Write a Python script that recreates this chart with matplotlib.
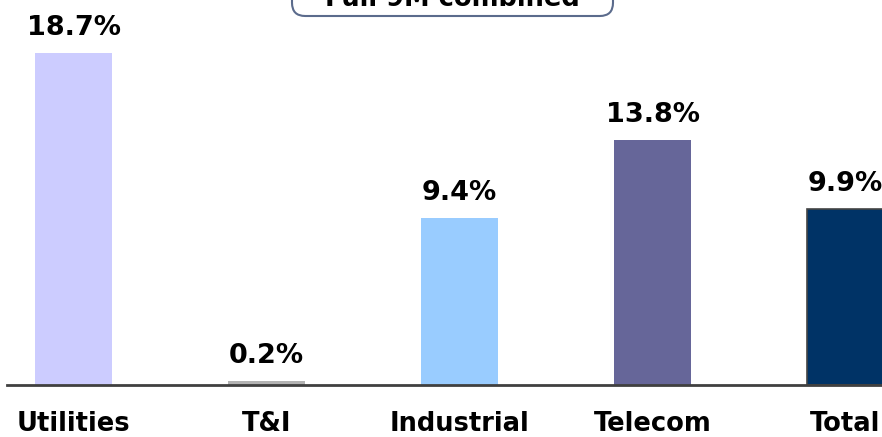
import matplotlib
matplotlib.use("Agg")
import matplotlib.pyplot as plt
from matplotlib.patches import FancyBboxPatch

categories = ["Utilities", "T&I", "Industrial", "Telecom", "Total"]
values = [18.7, 0.2, 9.4, 13.8, 9.9]
value_labels = ["18.7%", "0.2%", "9.4%", "13.8%", "9.9%"]
colors = ["#CCCCFF", "#B3B3B3", "#99CCFF", "#666699", "#003366"]
edgecolors = ["none", "none", "none", "none", "#444444"]
title = "Full 9M combined"

plt.rcParams['font.family'] = ['DejaVu Sans']

fig = plt.figure(figsize=(8.82, 4.37), dpi=100)
ax = fig.add_axes([7/882, 1 - 385/437, 1 - 7/882, 385/437])

x = list(range(len(categories)))
bars = ax.bar(x, values, width=0.4, color=colors, edgecolor=edgecolors, linewidth=1.2)

ax.set_xlim(-0.345, 4.189)
ax.set_ylim(0, 385/17.75)

for s in ["top", "left", "right"]:
    ax.spines[s].set_visible(False)
ax.spines["bottom"].set_color("#404040")
ax.spines["bottom"].set_linewidth(2)
ax.set_yticks([])
ax.set_xticks([])

for xi, v, lab in zip(x, values, value_labels):
    ax.annotate(lab, xy=(xi, v), xytext=(0, 13), textcoords="offset points",
                ha="center", va="baseline", fontsize=19.5, fontweight="bold",
                color="black", annotation_clip=False)

for xi, cat in zip(x, categories):
    ax.annotate(cat, xy=(xi, 0), xycoords=("data", "axes fraction"),
                xytext=(0, -33.3), textcoords="offset points",
                ha="center", va="baseline", fontsize=18.5, fontweight="bold",
                color="black", annotation_clip=False)

# title box (partially cut at top)
box = FancyBboxPatch((292/882, 1 - 16/437), (613 - 292)/882, 40/437,
                     boxstyle="round,pad=0,rounding_size=0.015",
                     transform=fig.transFigure, facecolor="white",
                     edgecolor="#5B6B8C", linewidth=1.5, zorder=5,
                     mutation_aspect=882/437)
fig.patches.append(box)
fig.text(452/882, 1 - 6/437, title, ha="center", va="baseline",
         fontsize=18.5, fontweight="bold", color="black", zorder=6)

fig.savefig("out.png", dpi=100)
